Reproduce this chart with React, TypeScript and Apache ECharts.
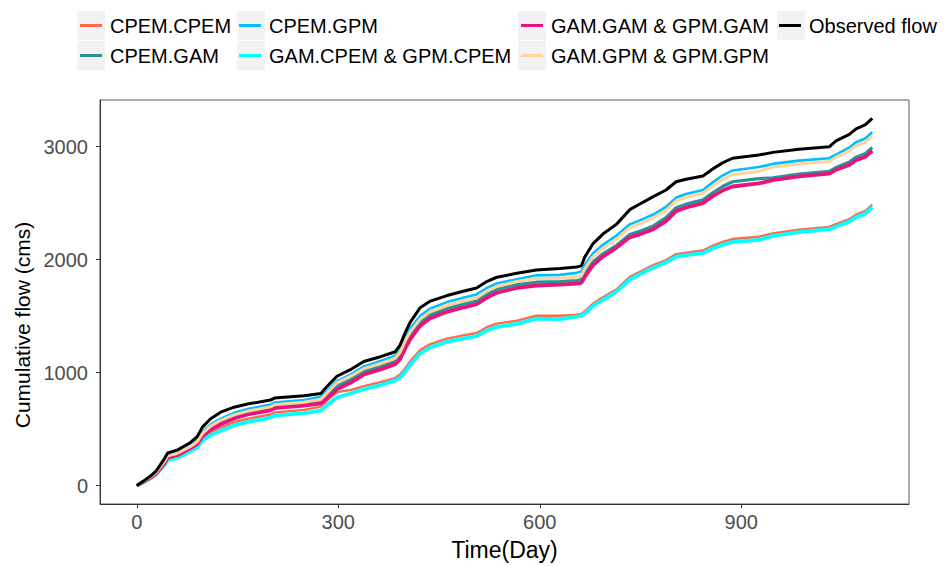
import React, { useEffect, useRef } from "react";
import * as echarts from "echarts";

const days = [0, 10, 21, 29, 41, 46, 61, 80, 90, 98, 110, 125, 145, 165, 199, 205, 249, 274, 284, 298, 318, 338, 363, 385, 392, 400, 407, 422, 437, 462, 486, 506, 521, 536, 566, 595, 630, 655, 662, 667, 679, 694, 714, 734, 749, 769, 788, 803, 818, 843, 858, 872, 887, 926, 947, 986, 1031, 1041, 1061, 1071, 1085, 1095];

const observed = [0, 40, 87, 130, 237, 289, 317, 382, 434, 520, 592, 650, 694, 722, 757, 775, 795, 815, 881, 968, 1026, 1098, 1141, 1185, 1243, 1358, 1445, 1575, 1633, 1682, 1720, 1749, 1806, 1844, 1879, 1908, 1922, 1935, 1945, 2023, 2139, 2226, 2312, 2442, 2492, 2558, 2616, 2689, 2711, 2740, 2804, 2856, 2897, 2925, 2949, 2977, 2998, 3050, 3108, 3157, 3194, 3250];

const cpemGpm = [0, 37, 80, 120, 218, 269, 297, 361, 404, 477, 542, 592, 644, 679, 717, 735, 757, 786, 841, 924, 982, 1055, 1103, 1150, 1203, 1315, 1390, 1503, 1568, 1624, 1662, 1692, 1749, 1789, 1827, 1861, 1865, 1883, 1895, 1953, 2054, 2131, 2211, 2312, 2347, 2399, 2466, 2549, 2581, 2616, 2686, 2744, 2789, 2819, 2847, 2876, 2897, 2930, 2993, 3039, 3074, 3127];

const gpmGpm = [0, 36, 78, 117, 213, 263, 287, 347, 389, 462, 527, 578, 626, 659, 697, 715, 737, 763, 825, 910, 966, 1035, 1081, 1128, 1178, 1286, 1360, 1474, 1540, 1596, 1634, 1663, 1720, 1764, 1806, 1833, 1835, 1848, 1858, 1918, 2024, 2101, 2182, 2282, 2317, 2370, 2436, 2519, 2551, 2587, 2654, 2708, 2751, 2781, 2819, 2847, 2868, 2905, 2963, 3007, 3041, 3093];

const cpemGam = [0, 35, 75, 112, 203, 253, 278, 340, 379, 450, 512, 560, 610, 644, 682, 700, 723, 745, 799, 881, 939, 1011, 1054, 1098, 1150, 1258, 1332, 1445, 1510, 1566, 1604, 1634, 1691, 1736, 1778, 1800, 1806, 1815, 1823, 1878, 1979, 2051, 2125, 2222, 2252, 2298, 2371, 2459, 2491, 2529, 2594, 2647, 2689, 2717, 2724, 2757, 2781, 2815, 2863, 2907, 2939, 2992];

const gpmGam = [0, 34, 73, 110, 198, 247, 271, 332, 369, 439, 497, 543, 594, 630, 667, 685, 708, 728, 776, 852, 910, 983, 1029, 1075, 1118, 1219, 1295, 1416, 1481, 1538, 1576, 1605, 1662, 1707, 1749, 1771, 1778, 1787, 1794, 1848, 1949, 2026, 2104, 2197, 2224, 2269, 2341, 2429, 2461, 2500, 2564, 2611, 2647, 2674, 2703, 2737, 2761, 2795, 2838, 2879, 2911, 2963];

const cpemCpem = [0, 33, 71, 107, 193, 241, 262, 318, 354, 419, 472, 514, 561, 592, 629, 647, 670, 699, 756, 828, 846, 881, 916, 954, 983, 1041, 1100, 1199, 1253, 1301, 1330, 1351, 1402, 1434, 1460, 1503, 1503, 1513, 1520, 1543, 1609, 1666, 1735, 1847, 1892, 1951, 1996, 2049, 2061, 2081, 2124, 2156, 2182, 2203, 2232, 2265, 2290, 2315, 2358, 2399, 2432, 2486];

const gpmCpem = [0, 30, 66, 100, 178, 226, 247, 304, 338, 399, 447, 486, 533, 564, 601, 619, 642, 664, 715, 780, 815, 853, 890, 931, 955, 1011, 1070, 1171, 1224, 1272, 1301, 1322, 1373, 1405, 1431, 1478, 1474, 1495, 1503, 1523, 1588, 1645, 1714, 1826, 1871, 1931, 1975, 2027, 2039, 2058, 2100, 2132, 2156, 2174, 2211, 2243, 2269, 2293, 2336, 2376, 2409, 2463];

const xTicks = [0, 300, 600, 900];
const yTicks = [0, 1000, 2000, 3000];

const seriesNames = [
  "CPEM.CPEM",
  "CPEM.GAM",
  "CPEM.GPM",
  "GAM.CPEM & GPM.CPEM",
  "GAM.GAM & GPM.GAM",
  "GAM.GPM & GPM.GPM",
  "Observed flow",
];
const seriesValues = [cpemCpem, cpemGam, cpemGpm, gpmCpem, gpmGam, gpmGpm, observed];
const seriesColors = ["#FF6A4D", "#2A9494", "#00BFFF", "#00FFFF", "#E8137C", "#FFD39B", "#000000"];
const seriesWidths = [2.4, 3.2, 2.6, 3.8, 3.8, 3, 3];

const FONT = "'Liberation Sans', Arial, sans-serif";

export default function App() {
  const ref = useRef<HTMLDivElement>(null);
  useEffect(() => {
    document.body.style.margin = "0";
    if (!ref.current) return;
    const chart = echarts.init(ref.current, null, { renderer: "svg" });

    const series = seriesNames.map((name, i) => ({
      name,
      type: "line",
      data: days.map((d, j) => [d, seriesValues[i][j]]),
      showSymbol: false,
      symbol: "none",
      lineStyle: { color: seriesColors[i], width: seriesWidths[i] },
      itemStyle: { color: seriesColors[i] },
      z: 2 + i,
    }));

    const legendCols = [
      { left: 80, names: [seriesNames[0], seriesNames[1]] },
      { left: 239, names: [seriesNames[2], seriesNames[3]] },
      { left: 521, names: [seriesNames[4], seriesNames[5]] },
      { left: 779, names: [seriesNames[6]] },
    ];
    const legends = legendCols.map((c) => ({
      show: true,
      orient: "vertical",
      left: c.left,
      top: 11,
      padding: 0,
      itemGap: 1,
      itemWidth: 22,
      itemHeight: 3,
      icon: "rect",
      selectedMode: false,
      data: c.names,
      textStyle: { fontSize: 20, lineHeight: 29, color: "#000", fontFamily: FONT, padding: [0, 0, 0, 3] },
    }));

    const graphics: any[] = [];
    const boxPos = [
      [77, 11], [77, 41], [237, 11], [237, 41], [518, 11], [518, 41], [777, 11],
    ];
    boxPos.forEach(([x, y]) => {
      graphics.push({ type: "rect", shape: { x, y, width: 28, height: 29 }, style: { fill: "#F2F2F2" }, z: 0 });
    });
    graphics.push({
      type: "text",
      x: 22,
      y: 325,
      rotation: Math.PI / 2,
      style: { text: "Cumulative flow (cms)", fontSize: 21, fill: "#000", fontFamily: FONT, align: "center", verticalAlign: "middle" },
    });

    chart.setOption({
      animation: false,
      backgroundColor: "#fff",
      textStyle: { fontFamily: FONT },
      graphic: graphics,
      legend: legends,
      grid: { left: 100, top: 100, right: 35, bottom: 55, show: true, borderColor: "#5a5a5a", borderWidth: 1 },
      xAxis: {
        type: "value",
        min: -54.75,
        max: 1149.75,
        name: "Time(Day)",
        nameLocation: "middle",
        nameGap: 34,
        nameTextStyle: { fontSize: 23, color: "#000", fontFamily: FONT },
        axisLine: { show: true, onZero: false, lineStyle: { color: "#333", width: 1 } },
        axisTick: { show: true, length: 4, customValues: xTicks, lineStyle: { color: "#333" } },
        axisLabel: { customValues: xTicks, fontSize: 20, color: "#4D4D4D", margin: 8, fontFamily: FONT, formatter: (v: number) => String(v) },
        splitLine: { show: false },
      },
      yAxis: {
        type: "value",
        min: -162.5,
        max: 3412.5,
        axisLine: { show: true, onZero: false, lineStyle: { color: "#333", width: 1 } },
        axisTick: { show: true, length: 4, customValues: yTicks, lineStyle: { color: "#333" } },
        axisLabel: { customValues: yTicks, fontSize: 20, color: "#4D4D4D", margin: 12, fontFamily: FONT, formatter: (v: number) => String(v) },
        splitLine: { show: false },
      },
      series,
    });
    return () => chart.dispose();
  }, []);
  return <div ref={ref} style={{ width: 944, height: 566 }} />;
}
